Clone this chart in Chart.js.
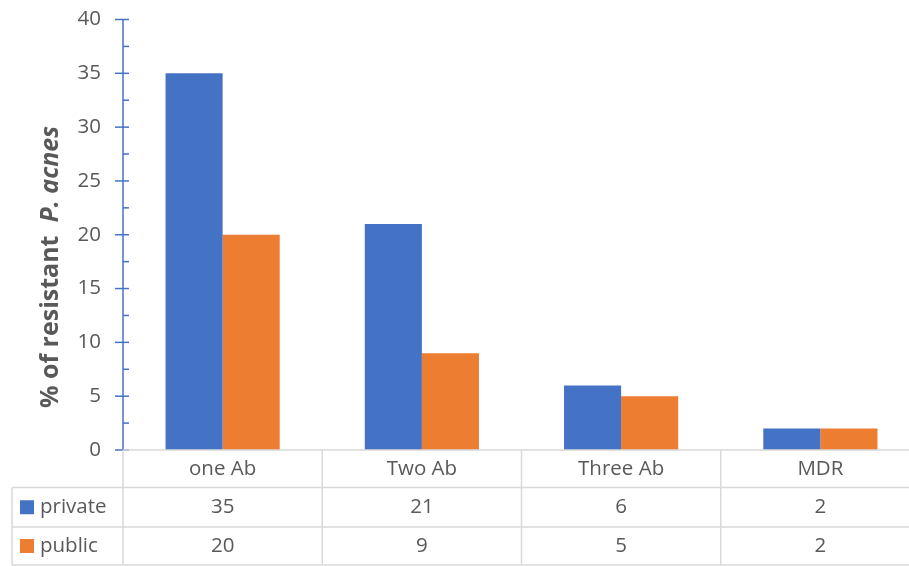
<!DOCTYPE html>
<html>
<head>
<meta charset="utf-8">
<script src="https://cdn.jsdelivr.net/npm/chart.js@4/dist/chart.umd.min.js"></script>
<style>
  html, body { margin: 0; padding: 0; background: #fff; overflow: hidden; }
  #wrap { width: 909px; height: 566px; overflow: hidden; position: relative; }
  #box { width: 920px; height: 566px; position: absolute; left: 0; top: 0; }
</style>
</head>
<body>
<div id="wrap"><div id="box"><canvas id="c"></canvas></div></div>
<script>
// Resistance counts per antibiotic group
const categories = ['one Ab', 'Two Ab', 'Three Ab', 'MDR'];
const privateValues = [35, 21, 6, 2];
const publicValues = [20, 9, 5, 2];
const seriesNames = ['private', 'public'];
const yTickLabels = [0, 5, 10, 15, 20, 25, 30, 35, 40];

const BLUE = '#4472c4';
const ORANGE = '#ed7d31';
const TEXT = '#595959';
const LINE = '#d9d9d9';
const FONT = "'Open Sans', 'Liberation Sans', sans-serif";
const SIZE = 20.5;

// Axis ticks, rotated title and the data table under the plot
const decor = {
  id: 'decor',
  afterDraw(chart) {
    const ctx = chart.ctx;
    const y = chart.scales.y;
    const x = chart.scales.x;
    const ax = chart.chartArea.left;
    ctx.save();

    // y axis line
    ctx.strokeStyle = BLUE;
    ctx.lineWidth = 1.5;
    ctx.beginPath();
    ctx.moveTo(ax, y.getPixelForValue(40));
    ctx.lineTo(ax, y.getPixelForValue(0));
    ctx.stroke();
    // major and minor ticks
    for (let v = 0; v <= 40; v += 2.5) {
      const py = y.getPixelForValue(v);
      const major = v % 5 === 0;
      ctx.beginPath();
      ctx.moveTo(major ? ax - 8 : ax, py);
      ctx.lineTo(ax + 6, py);
      ctx.stroke();
    }

    // rotated axis title with italic species name
    ctx.translate(51, 267);
    ctx.rotate(-Math.PI / 2);
    ctx.fillStyle = TEXT;
    ctx.textBaseline = 'middle';
    const f1 = "bold 25px " + FONT;
    const f2 = "italic bold 25px " + FONT;
    const t1 = '% of resistant  ';
    const t2 = 'P. acnes';
    ctx.font = f1; const w1 = ctx.measureText(t1).width;
    ctx.font = f2; const w2 = ctx.measureText(t2).width;
    const sx = -(w1 + w2) / 2;
    ctx.font = f1; ctx.textAlign = 'left'; ctx.fillText(t1, sx, 0);
    ctx.font = f2; ctx.fillText(t2, sx + w1, 0);
    ctx.setTransform(1, 0, 0, 1, 0, 0);

    // data table
    const top = y.getPixelForValue(0);
    const rows = [top, 487.5, 527, 565];
    const right = chart.chartArea.right;
    const tableLeft = 12;
    const n = categories.length;
    const half = (x.getPixelForValue(1) - x.getPixelForValue(0)) / 2;
    ctx.strokeStyle = LINE;
    ctx.lineWidth = 1.5;
    ctx.beginPath();
    ctx.moveTo(ax, rows[0]); ctx.lineTo(right, rows[0]);
    for (let r = 1; r < rows.length; r++) {
      ctx.moveTo(tableLeft, rows[r]); ctx.lineTo(right, rows[r]);
    }
    ctx.moveTo(tableLeft, rows[1]); ctx.lineTo(tableLeft, rows[3]);
    for (let i = 0; i <= n; i++) {
      const px = i < n ? x.getPixelForValue(i) - half : x.getPixelForValue(n - 1) + half;
      ctx.moveTo(px, rows[0]); ctx.lineTo(px, rows[3]);
    }
    ctx.stroke();

    ctx.fillStyle = TEXT;
    ctx.font = SIZE + "px " + FONT;
    ctx.textAlign = 'center';
    ctx.textBaseline = 'middle';
    const series = [privateValues, publicValues];
    for (let i = 0; i < n; i++) {
      const cx = x.getPixelForValue(i);
      ctx.fillText(categories[i], cx, (rows[0] + rows[1]) / 2);
      series.forEach((vals, s) => {
        ctx.fillText(String(vals[i]), cx, (rows[s + 1] + rows[s + 2]) / 2);
      });
    }
    // legend keys in the first column
    const colors = [BLUE, ORANGE];
    seriesNames.forEach((name, s) => {
      const cy = (rows[s + 1] + rows[s + 2]) / 2;
      ctx.fillStyle = colors[s];
      ctx.fillRect(20, cy - 7, 14, 14);
      ctx.fillStyle = TEXT;
      ctx.textAlign = 'left';
      ctx.fillText(name, 40, cy);
    });
    ctx.restore();
  }
};

new Chart(document.getElementById('c'), {
  type: 'bar',
  data: {
    labels: categories,
    datasets: [
      { label: seriesNames[0], data: privateValues, backgroundColor: BLUE },
      { label: seriesNames[1], data: publicValues, backgroundColor: ORANGE }
    ]
  },
  options: {
    responsive: true,
    maintainAspectRatio: false,
    animation: false,
    events: [],
    datasets: { bar: { categoryPercentage: 0.573, barPercentage: 1.0 } },
    layout: { padding: { top: 19.5, right: 0, left: 0, bottom: 0 } },
    plugins: { legend: { display: false }, tooltip: { enabled: false } },
    scales: {
      x: {
        ticks: { display: false },
        grid: { display: false, drawTicks: false },
        border: { display: false },
        afterFit(s) { s.height = 116; s.paddingLeft = 0; s.paddingRight = 0; }
      },
      y: {
        min: 0, max: 40,
        afterBuildTicks(s) { s.ticks = yTickLabels.map(v => ({ value: v })); },
        ticks: { color: TEXT, font: { family: FONT, size: SIZE }, padding: 22 },
        grid: { display: false, drawTicks: false },
        border: { display: false },
        afterFit(s) { s.width = 123; s.paddingTop = 0; s.paddingBottom = 0; }
      }
    }
  },
  plugins: [decor]
});
</script>
</body>
</html>
